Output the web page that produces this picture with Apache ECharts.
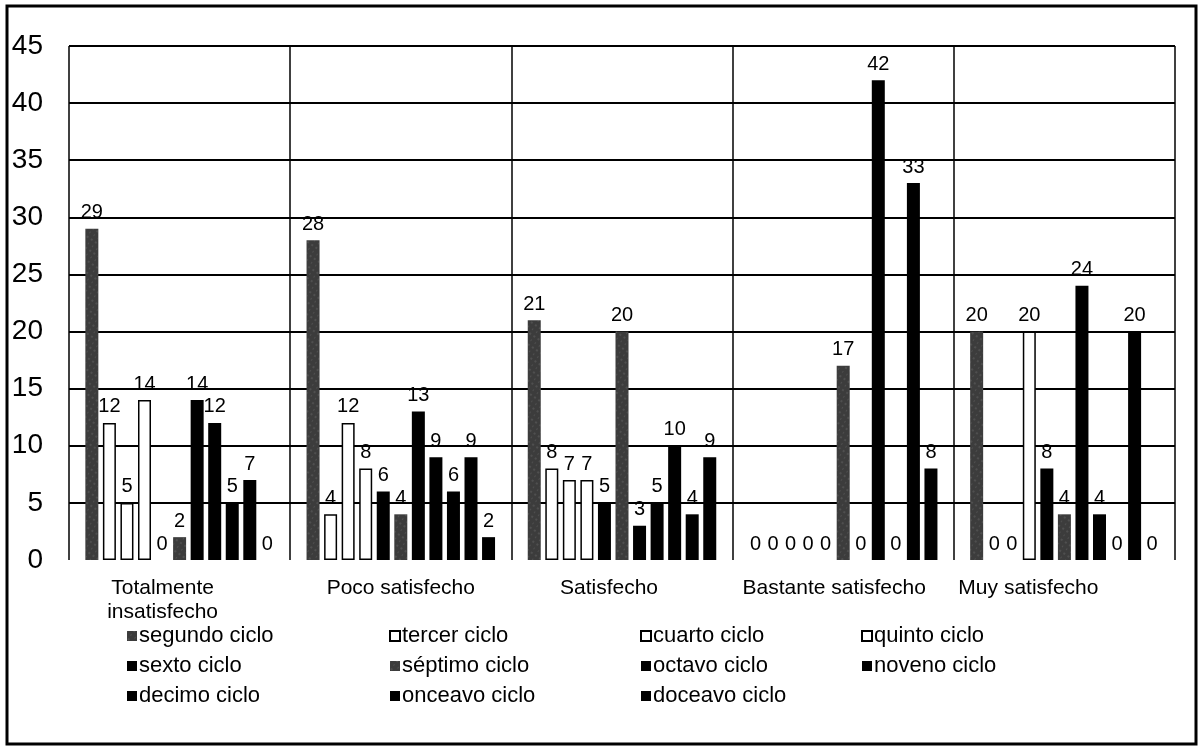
<!DOCTYPE html>
<html>
<head>
<meta charset="utf-8">
<script src="https://cdn.jsdelivr.net/npm/echarts@6/dist/echarts.min.js"></script>
<style>
  html, body { margin: 0; padding: 0; background: #fff; }
  #chart { width: 1200px; height: 747px; }
</style>
</head>
<body>
<div id="chart"></div>
<script>
// Satisfaction levels (x categories)
const categories = ['Totalmente\ninsatisfecho', 'Poco satisfecho', 'Satisfecho', 'Bastante satisfecho', 'Muy satisfecho'];

// Series names, one per academic cycle
const seriesNames = ['segundo ciclo', 'tercer ciclo', 'cuarto ciclo', 'quinto ciclo', 'sexto ciclo',
  'séptimo ciclo', 'octavo ciclo', 'noveno ciclo', 'decimo ciclo', 'onceavo ciclo', 'doceavo ciclo'];

// Percentages per cycle, in category order
const segundo = [29, 28, 21, 0, 20];
const tercer  = [12, 4, 8, 0, 0];
const cuarto  = [5, 12, 7, 0, 0];
const quinto  = [14, 8, 7, 0, 20];
const sexto   = [0, 6, 5, 0, 8];
const septimo = [2, 4, 20, 17, 4];
const octavo  = [14, 13, 3, 0, 24];
const noveno  = [12, 9, 5, 42, 4];
const decimo  = [5, 6, 10, 0, 0];
const onceavo = [7, 9, 4, 33, 20];
const doceavo = [0, 2, 9, 8, 0];

const yTicks = [0, 5, 10, 15, 20, 25, 30, 35, 40, 45];

const values = [segundo, tercer, cuarto, quinto, sexto, septimo, octavo, noveno, decimo, onceavo, doceavo];

const FONT = '"Liberation Sans", Arial, sans-serif';

// Fill styles: speckled grey, outlined white, solid black
const speckled = {
  color: '#3c3c3c',
  decal: {
    symbol: 'rect',
    symbolSize: 0.5,
    dashArrayX: [[2, 3], [1, 4]],
    dashArrayY: [2, 3],
    color: 'rgba(200,200,200,0.55)',
    rotation: 0.6
  }
};
const outlined = { color: '#ffffff', borderColor: '#000', borderWidth: 1.5 };
const solid = { color: '#000000' };

const styleFor = [speckled, outlined, outlined, outlined, solid, speckled, solid, solid, solid, solid, solid];

const series = seriesNames.map((name, i) => ({
  name: name,
  type: 'bar',
  // empty bars get no outline, so nothing is drawn on the baseline
  data: values[i].map(v => v === 0 ? { value: v, itemStyle: { borderWidth: 0 } } : v),
  barWidth: 13,
  barGap: '35%',
  itemStyle: styleFor[i],
  label: {
    show: true,
    position: 'top',
    distance: 6,
    color: '#000',
    fontFamily: FONT,
    fontSize: 20
  }
}));

// Legend columns
const legendCols = [
  { left: 122, names: ['segundo ciclo', 'sexto ciclo', 'decimo ciclo'] },
  { left: 384, names: ['tercer ciclo', 'séptimo ciclo', 'onceavo ciclo'] },
  { left: 635, names: ['cuarto ciclo', 'octavo ciclo', 'doceavo ciclo'] },
  { left: 856, names: ['quinto ciclo', 'noveno ciclo'] }
];

// Category labels sit slightly left of their group centre
const labelShift = [17, 0, 13, 9, 36];
const labelRich = {};
labelShift.forEach((s, i) => {
  labelRich['c' + i] = {
    color: '#000', fontFamily: FONT, fontSize: 21, lineHeight: 24,
    padding: [0, 2 * s, 0, 0]
  };
});

const splitColors = yTicks.map((t, i) => i === 0 ? 'rgba(0,0,0,0)' : '#000');

const option = {
  backgroundColor: '#fff',
  animation: false,
  aria: { enabled: false },
  grid: { left: 69, right: 25, top: 46, bottom: 187, containLabel: false },
  xAxis: {
    type: 'category',
    data: categories,
    axisLine: { show: false },
    axisTick: { show: false },
    splitLine: { show: true, interval: 0, lineStyle: { color: '#000', width: 1.5 } },
    axisLabel: {
      interval: 0,
      color: '#000',
      fontFamily: FONT,
      fontSize: 21,
      margin: 16,
      lineHeight: 24,
      formatter: (val, idx) => val.split('\n').map(line => '{c' + idx + '|' + line + '}').join('\n'),
      rich: labelRich
    }
  },
  yAxis: {
    type: 'value',
    min: 0,
    max: 45,
    interval: 5,
    axisLine: { show: false },
    axisTick: { show: false },
    splitLine: { show: true, lineStyle: { color: splitColors, width: 2 } },
    axisLabel: {
      color: '#000',
      fontFamily: FONT,
      fontSize: 28,
      margin: 26
    }
  },
  legend: legendCols.map(col => ({
    data: col.names.map(n => ({ name: n, icon: 'rect' })),
    orient: 'vertical',
    left: col.left,
    top: 620,
    itemWidth: 10,
    itemHeight: 10,
    itemGap: 8,
    selectedMode: false,
    textStyle: { color: '#000', fontFamily: FONT, fontSize: 22, padding: [0, 0, 0, -3] }
  })),
  graphic: [{
    type: 'rect',
    shape: { x: 7, y: 6, width: 1189, height: 738 },
    style: { fill: 'none', stroke: '#000', lineWidth: 3 },
    silent: true
  }],
  series: series
};

const chart = echarts.init(document.getElementById('chart'), null, { renderer: 'canvas' });
chart.setOption(option);
</script>
</body>
</html>
